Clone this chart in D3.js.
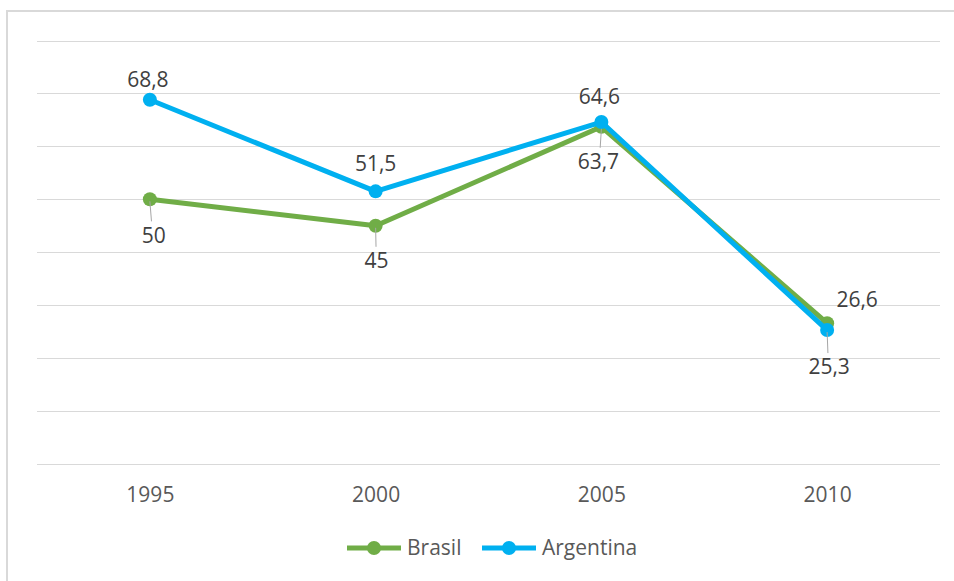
<!DOCTYPE html>
<html>
<head>
<meta charset="utf-8">
<script src="https://cdn.jsdelivr.net/npm/d3@7"></script>
<style>
  html, body { margin: 0; padding: 0; background: #fff; }
  svg { display: block; }
  text { font-family: "Open Sans", "Noto Sans", sans-serif; }
</style>
</head>
<body>
<svg id="chart" width="954" height="581"></svg>
<script>
// Anos e séries
const years = ["1995", "2000", "2005", "2010"];
const brasil = [50, 45, 63.7, 26.6];
const argentina = [68.8, 51.5, 64.6, 25.3];
const yTicks = [0, 10, 20, 30, 40, 50, 60, 70, 80];

const series = [
  { name: "Brasil", values: brasil, color: "#70AD47" },
  { name: "Argentina", values: argentina, color: "#00B0F0" }
];

const W = 954, H = 581;
const svg = d3.select("#chart");

// moldura do gráfico (continua além da janela à direita e em baixo)
svg.append("rect")
  .attr("x", 7).attr("y", 11)
  .attr("width", W + 20).attr("height", H + 20)
  .attr("fill", "#fff").attr("stroke", "#d9d9d9").attr("stroke-width", 2);

const plot = { left: 37, right: 940, top: 40.5, bottom: 464 };

const x = d3.scalePoint().domain(years).range([plot.left, plot.right]).padding(0.5);
const y = d3.scaleLinear().domain([0, 80]).range([plot.bottom, plot.top]);

// linhas de grade
svg.append("g").selectAll("line").data(yTicks).join("line")
  .attr("x1", plot.left).attr("x2", plot.right)
  .attr("y1", d => Math.round(y(d)) + 0.5).attr("y2", d => Math.round(y(d)) + 0.5)
  .attr("stroke", "#d9d9d9").attr("stroke-width", 1.2);

// eixo das categorias
const xAxis = d3.axisBottom(x).tickSize(0).tickPadding(0);
const gx = svg.append("g").attr("transform", `translate(0,${plot.bottom})`).call(xAxis);
gx.select(".domain").remove();
gx.selectAll("text")
  .attr("y", 31).attr("dy", "0.35em")
  .attr("fill", "#595959").style("font-size", "21px");

const line = d3.line().x((d, i) => x(years[i])).y(d => y(d));

// linhas e marcadores
series.forEach(s => {
  const g = svg.append("g");
  g.append("path").datum(s.values)
    .attr("d", line).attr("fill", "none")
    .attr("stroke", s.color).attr("stroke-width", 5).attr("stroke-linejoin", "round");
  g.selectAll("circle").data(s.values).join("circle")
    .attr("cx", (d, i) => x(years[i])).attr("cy", d => y(d))
    .attr("r", 7).attr("fill", s.color);
});

// rótulos de dados: posição relativa ao marcador (acima / abaixo com linha guia)
const placement = {
  Brasil:    [{ dx: 4, dy: 36, lead: true }, { dx: 1, dy: 35, lead: true }, { dx: -3, dy: 35, lead: true }, { dx: 30, dy: -24, lead: false }],
  Argentina: [{ dx: -2, dy: -20, lead: false }, { dx: 0, dy: -28, lead: false }, { dx: -2, dy: -25, lead: false }, { dx: 2, dy: 37, lead: true }]
};

const fmt = v => String(v).replace(".", ",");
series.forEach(s => {
  s.values.forEach((v, i) => {
    const p = placement[s.name][i];
    const cx = x(years[i]), cy = y(v);
    if (p.lead) {
      svg.append("line")
        .attr("x1", cx).attr("y1", cy + 2)
        .attr("x2", cx + p.dx * 0.4).attr("y2", cy + p.dy - 14)
        .attr("stroke", "#a6a6a6").attr("stroke-width", 1);
    }
    svg.append("text")
      .attr("x", cx + p.dx).attr("y", cy + p.dy)
      .attr("dy", "0.35em").attr("text-anchor", "middle")
      .attr("fill", "#404040").style("font-size", "21px")
      .text(fmt(v));
  });
});

// legenda
const legendY = 548;
const legendItems = [
  { s: series[0], x0: 347 },
  { s: series[1], x0: 482 }
];
legendItems.forEach(({ s, x0 }) => {
  svg.append("line")
    .attr("x1", x0).attr("x2", x0 + 54).attr("y1", legendY).attr("y2", legendY)
    .attr("stroke", s.color).attr("stroke-width", 5);
  svg.append("circle").attr("cx", x0 + 27).attr("cy", legendY).attr("r", 7).attr("fill", s.color);
  svg.append("text")
    .attr("x", x0 + 60).attr("y", legendY).attr("dy", "0.35em")
    .attr("fill", "#595959").style("font-size", "21px")
    .text(s.name);
});
</script>
</body>
</html>
